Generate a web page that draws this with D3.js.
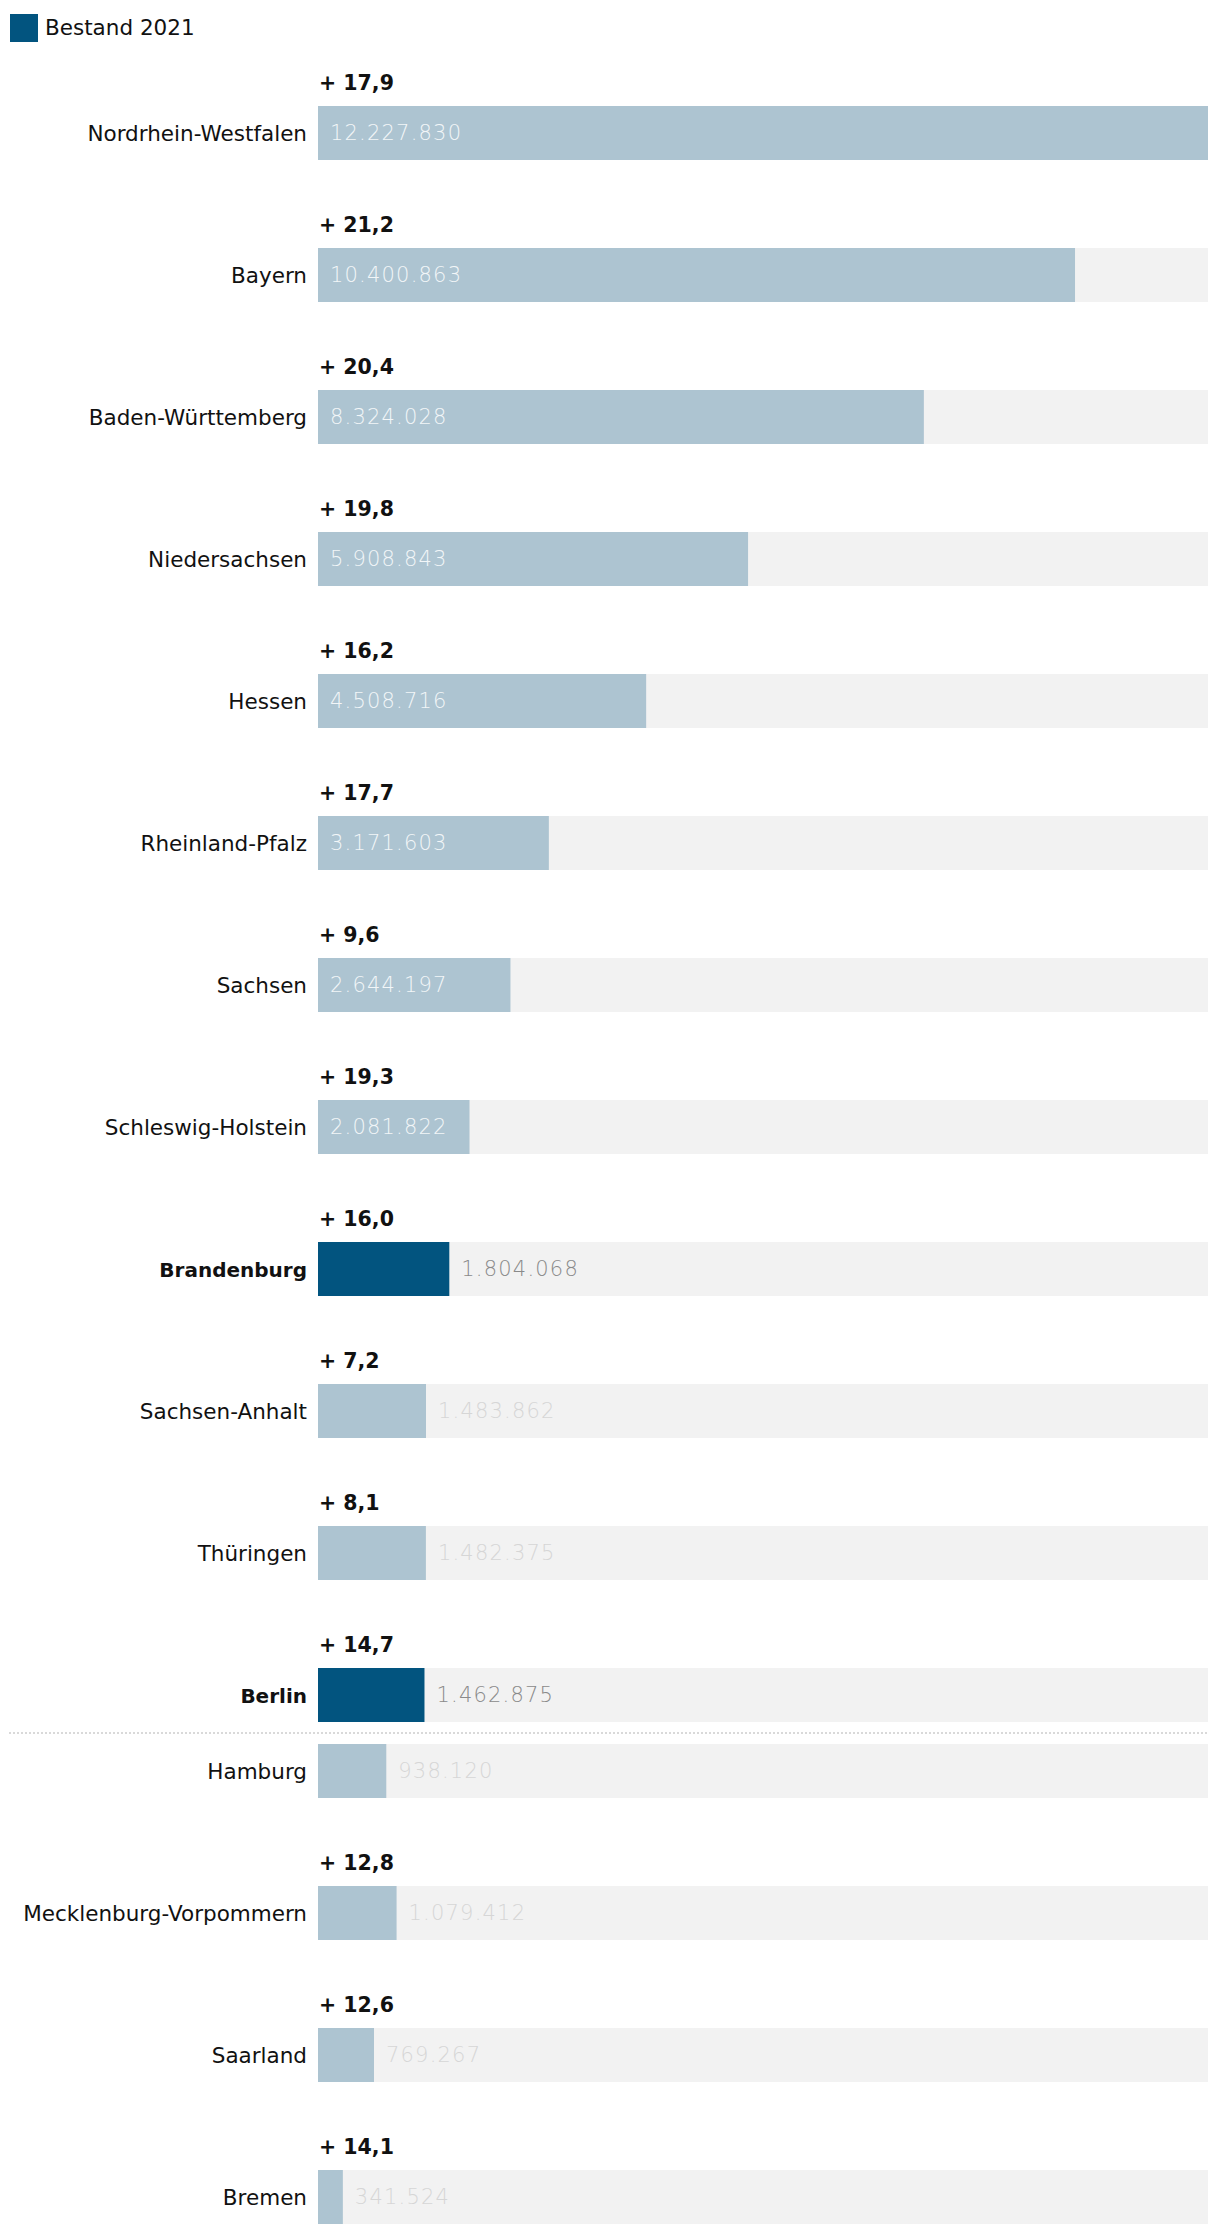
<!DOCTYPE html>
<html>
<head>
<meta charset="utf-8">
<script src="https://cdn.jsdelivr.net/npm/d3@7"></script>
<style>
  html, body { margin: 0; padding: 0; background: #fff; }
  svg { display: block; font-family: "DejaVu Sans", sans-serif; }
</style>
</head>
<body>
<svg id="chart" width="1220" height="2236"></svg>
<script>
// ---- data ----
const states = ["Nordrhein-Westfalen", "Bayern", "Baden-Württemberg", "Niedersachsen", "Hessen",
  "Rheinland-Pfalz", "Sachsen", "Schleswig-Holstein", "Brandenburg", "Sachsen-Anhalt",
  "Thüringen", "Berlin", "Hamburg", "Mecklenburg-Vorpommern", "Saarland", "Bremen"];
const values = [12227830, 10400863, 8324028, 5908843, 4508716, 3171603, 2644197, 2081822,
  1804068, 1483862, 1482375, 1462875, 938120, 1079412, 769267, 341524];
const changes = [17.9, 21.2, 20.4, 19.8, 16.2, 17.7, 9.6, 19.3, 16.0, 7.2, 8.1, 14.7, null, 12.8, 12.6, 14.1];
const highlighted = ["Brandenburg", "Berlin"];
const separatorAfter = "Berlin";
const legendLabel = "Bestand 2021";

// ---- style / layout ----
const colDark = "#02547f", colLight = "#adc4d1", colTrack = "#f2f2f2";
const x0 = 318, x1 = 1208;
const barH = 54, labelSpace = 66, rowGap = 22, startY = 40;

const de = d3.formatLocale({decimal: ",", thousands: ".", grouping: [3], currency: ["", " €"]});
const fmtVal = de.format(",d");
const fmtChg = de.format(".1f");

const rows = states.map((s, i) => ({state: s, value: values[i], change: changes[i], hl: highlighted.includes(s)}));
let cy = startY;
rows.forEach(r => {
  if (r.change != null) cy += labelSpace;
  r.y = cy;
  cy += barH + rowGap;
});

const x = d3.scaleLinear().domain([0, d3.max(values)]).range([x0, x1]);

const svg = d3.select("#chart");

// legend
const lg = svg.append("g");
lg.append("rect").attr("x", 10).attr("y", 14).attr("width", 28).attr("height", 28).attr("fill", colDark);
lg.append("text").attr("x", 45).attr("y", 35).attr("font-size", 21.5).attr("fill", "#111").text(legendLabel);

const g = svg.selectAll("g.row").data(rows).join("g").attr("class", "row");

g.append("rect").attr("x", x0).attr("y", d => d.y).attr("width", x1 - x0).attr("height", barH).attr("fill", colTrack);
g.append("rect").attr("x", x0).attr("y", d => d.y).attr("width", d => x(d.value) - x0).attr("height", barH)
  .attr("fill", d => d.hl ? colDark : colLight);

g.append("text").attr("x", 307).attr("y", d => d.y + barH / 2 + 8)
  .attr("text-anchor", "end").attr("font-size", d => d.hl ? 20 : 21.5).attr("fill", "#111")
  .attr("font-weight", d => d.hl ? "bold" : "normal")
  .text(d => d.state);

g.filter(d => d.change != null).append("text")
  .attr("x", x0 + 1).attr("y", d => d.y - 16)
  .attr("font-size", 20.5).attr("font-weight", "bold").attr("fill", "#111")
  .text(d => "+ " + fmtChg(d.change));

const pad = 12;
g.append("text").attr("y", d => d.y + barH / 2 + 7)
  .attr("font-size", 21).attr("font-weight", 200).attr("letter-spacing", 1.2)
  .text(d => fmtVal(d.value))
  .each(function(d) {
    const w = this.getComputedTextLength();
    const bw = x(d.value) - x0;
    const inside = bw > w + 2 * pad;
    d3.select(this).attr("x", inside ? x0 + pad : x(d.value) + pad)
      .attr("fill", inside ? "#f2f6f8" : (d.hl ? "#8a8a8a" : "#d6d6d6"));
  });

// separator
const sepRow = rows.find(r => r.state === separatorAfter);
const sy = sepRow.y + barH + rowGap / 2;
svg.append("line").attr("x1", 9).attr("x2", x1).attr("y1", sy).attr("y2", sy)
  .attr("stroke", "#d9d9d9").attr("stroke-width", 2).attr("stroke-dasharray", "2,2");
</script>
</body>
</html>
